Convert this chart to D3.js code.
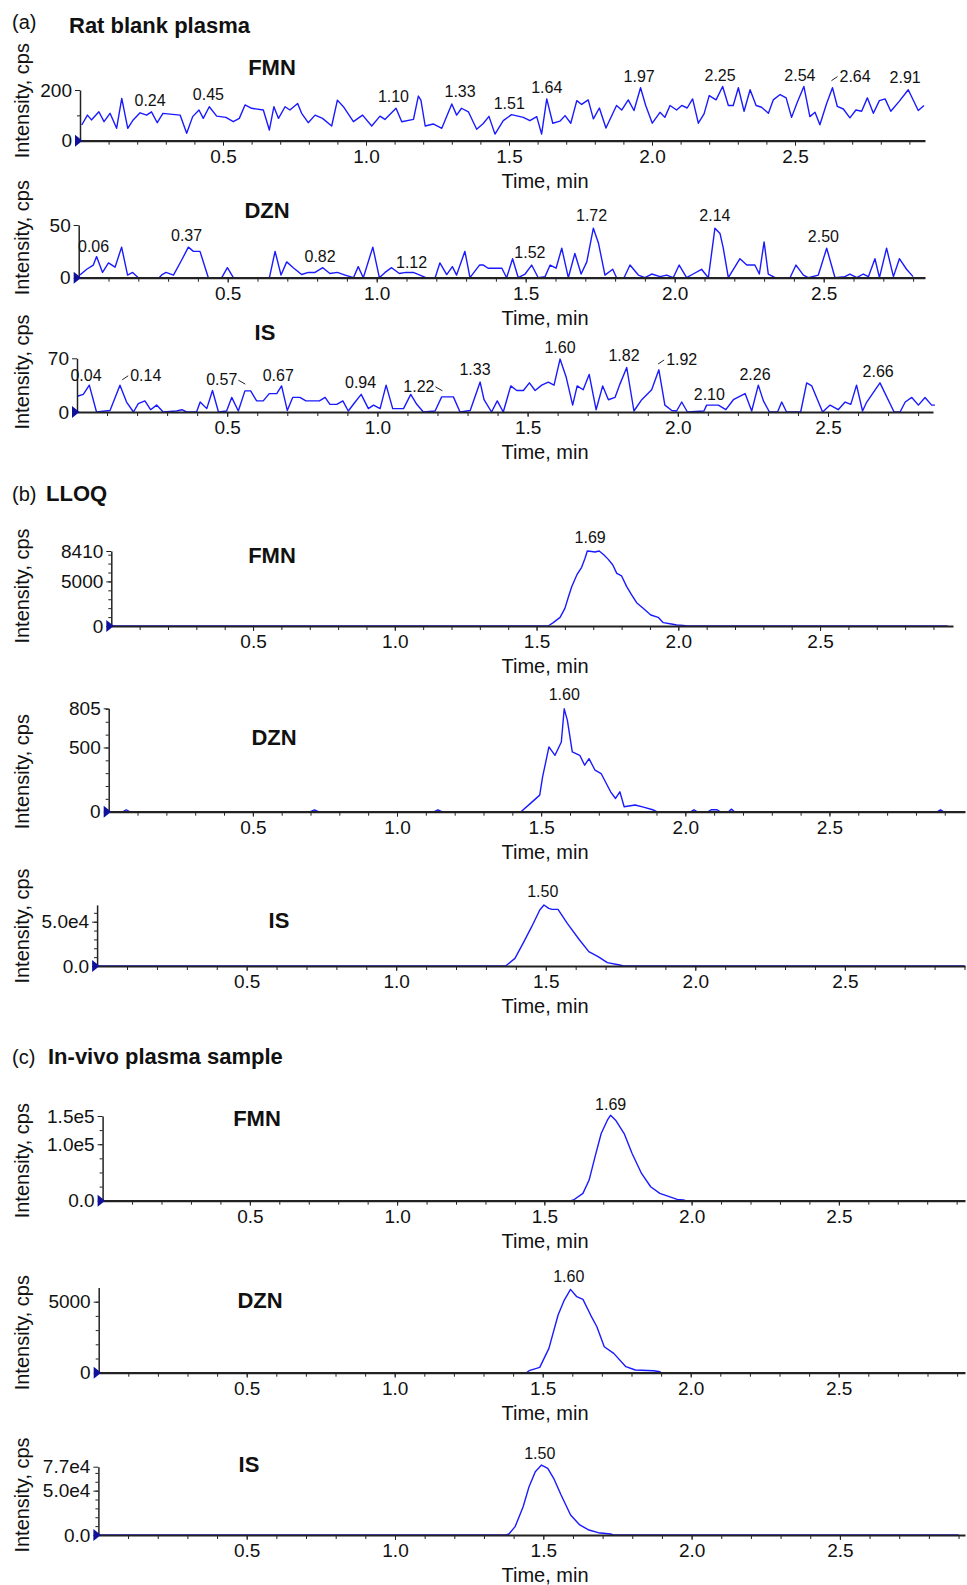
<!DOCTYPE html>
<html>
<head>
<meta charset="utf-8">
<script src="https://cdn.jsdelivr.net/npm/d3@7"></script>
<style>
body { margin: 0; background: #fff; }
svg text { font-family: "Liberation Sans", Arial, sans-serif; fill: #111; }
</style>
</head>
<body>
<svg id="chart" width="967" height="1585"></svg>
<script>
// ---- data: [time (min), intensity (cps)] ----
var blankFMN = [[0.006,62],[0.026,101],[0.04,82],[0.066,114],[0.084,75],[0.105,108],[0.128,49],[0.146,167],[0.167,49],[0.186,82],[0.21,110],[0.233,101],[0.25,114],[0.27,71],[0.29,108],[0.315,105],[0.35,101],[0.373,29],[0.394,95],[0.416,121],[0.431,88],[0.452,134],[0.478,97],[0.51,92],[0.536,75],[0.557,88],[0.577,141],[0.6,128],[0.641,121],[0.662,42],[0.678,134],[0.694,88],[0.717,134],[0.734,121],[0.761,147],[0.775,108],[0.798,71],[0.822,101],[0.848,88],[0.88,58],[0.9,160],[0.921,134],[0.956,75],[0.988,101],[1.02,58],[1.049,97],[1.066,84],[1.105,128],[1.125,75],[1.166,84],[1.183,176],[1.192,160],[1.207,58],[1.235,66],[1.265,49],[1.3,145],[1.317,101],[1.334,128],[1.358,114],[1.387,45],[1.41,68],[1.43,96],[1.451,26],[1.48,79],[1.509,103],[1.55,92],[1.573,79],[1.597,95],[1.614,26],[1.632,165],[1.653,69],[1.678,77],[1.696,99],[1.716,69],[1.737,158],[1.754,143],[1.777,161],[1.795,86],[1.816,129],[1.839,50],[1.876,139],[1.894,121],[1.917,161],[1.937,119],[1.96,209],[1.978,139],[2.001,69],[2.028,112],[2.045,92],[2.063,139],[2.086,121],[2.104,139],[2.123,129],[2.142,165],[2.162,69],[2.182,106],[2.2,178],[2.224,161],[2.247,214],[2.267,139],[2.284,139],[2.302,209],[2.322,116],[2.343,201],[2.364,139],[2.383,132],[2.407,108],[2.424,161],[2.448,182],[2.469,169],[2.488,92],[2.508,152],[2.531,214],[2.552,95],[2.57,112],[2.587,63],[2.61,145],[2.631,209],[2.648,135],[2.669,125],[2.692,90],[2.713,121],[2.733,116],[2.753,169],[2.774,108],[2.795,158],[2.815,165],[2.835,116],[2.865,156],[2.896,201],[2.931,119],[2.951,139]];
var blankDZN = [[0.004,2.5],[0.027,8],[0.049,12],[0.06,20],[0.08,5],[0.1,14],[0.122,10],[0.144,29],[0.164,2.5],[0.181,5],[0.2,0],[0.27,0],[0.28,3],[0.293,5],[0.318,2.5],[0.346,17],[0.368,29],[0.385,25],[0.407,25],[0.435,0],[0.48,0],[0.499,9.5],[0.519,0],[0.64,0],[0.659,25],[0.679,2.5],[0.698,15],[0.72,9.5],[0.748,3],[0.771,5],[0.793,5],[0.819,9.5],[0.843,4],[0.868,5],[0.894,2.5],[0.922,0],[0.938,10.5],[0.955,0],[0.987,29],[1.009,0],[1.028,5],[1.05,9.5],[1.076,4],[1.098,5],[1.123,5],[1.145,2.5],[1.165,0],[1.196,0],[1.212,14],[1.235,3],[1.254,10.5],[1.268,2.5],[1.296,25],[1.313,0],[1.345,12],[1.358,12],[1.374,9],[1.42,9],[1.436,0],[1.456,18],[1.475,0],[1.498,3.5],[1.52,12],[1.542,0],[1.565,1],[1.582,12],[1.602,9],[1.621,28],[1.643,0],[1.665,23],[1.686,3.5],[1.705,15],[1.727,47],[1.744,33],[1.766,2.5],[1.792,8],[1.805,0],[1.83,0],[1.85,12],[1.878,2.5],[1.9,0],[1.923,3.5],[1.951,1],[1.973,2.5],[1.995,0],[2.015,12],[2.04,0],[2.062,3.5],[2.09,8],[2.113,0],[2.135,47],[2.152,42],[2.163,28],[2.18,0],[2.219,18],[2.242,12],[2.269,12],[2.284,3.5],[2.3,34],[2.314,3.5],[2.337,0],[2.387,0],[2.407,12],[2.432,2.5],[2.448,0],[2.482,2.5],[2.51,28],[2.538,0],[2.571,1],[2.588,3.5],[2.611,0],[2.633,3.5],[2.65,1],[2.672,18],[2.687,0],[2.711,28],[2.734,1],[2.754,18],[2.778,8],[2.8,1]];
var blankIS = [[0.001,20.5],[0.021,23],[0.041,35],[0.065,0],[0.11,2],[0.143,35],[0.165,13],[0.188,0],[0.204,11],[0.226,14.5],[0.245,3],[0.265,9],[0.287,0],[0.332,1.3],[0.349,3],[0.365,0],[0.398,0],[0.41,13],[0.432,4.4],[0.451,28],[0.471,0],[0.498,1.3],[0.515,19],[0.537,1.3],[0.559,27.5],[0.578,27.5],[0.598,14.5],[0.62,14.5],[0.64,24],[0.665,24],[0.681,34],[0.7,2],[0.718,19],[0.742,19],[0.762,14.5],[0.787,14.5],[0.807,14.5],[0.826,19],[0.842,10],[0.865,10],[0.885,14.5],[0.903,1.3],[0.926,13],[0.946,23],[0.97,4.4],[0.987,9],[1.009,4.4],[1.029,35],[1.051,4.4],[1.087,4.4],[1.111,23],[1.131,10],[1.153,0],[1.192,1.3],[1.214,19.7],[1.253,19.7],[1.275,0],[1.309,2],[1.342,39],[1.355,16],[1.38,0],[1.399,14.5],[1.419,0],[1.444,34],[1.464,28],[1.486,28],[1.506,38],[1.525,28],[1.547,35],[1.569,39],[1.588,35],[1.608,69],[1.628,46],[1.65,9],[1.665,34],[1.685,29],[1.705,49],[1.728,3],[1.75,34],[1.769,16],[1.791,19],[1.808,37],[1.83,58],[1.854,1.3],[1.88,16],[1.913,29],[1.937,55],[1.957,9],[1.98,2],[1.996,1.3],[2.013,13],[2.032,0],[2.087,1.3],[2.096,9],[2.135,9],[2.16,3],[2.185,16],[2.224,24],[2.246,1.3],[2.268,35],[2.285,14.5],[2.305,0],[2.332,0],[2.346,13],[2.362,0],[2.409,0],[2.429,38],[2.446,34],[2.482,0],[2.507,9],[2.534,3],[2.557,13],[2.576,10],[2.595,35],[2.615,1.3],[2.629,13],[2.673,38],[2.72,0],[2.74,0],[2.757,13],[2.779,19],[2.801,9],[2.823,19],[2.845,9],[2.856,9]];
var lloqFMN = [[0,0],[1.541,0],[1.559,374],[1.583,972],[1.6,1980],[1.612,3215],[1.624,4410],[1.642,5720],[1.659,6580],[1.671,7590],[1.679,8410],[1.694,8350],[1.706,8300],[1.721,8410],[1.738,7960],[1.753,7470],[1.769,6840],[1.783,5900],[1.8,5610],[1.818,4410],[1.836,3475],[1.853,2615],[1.876,1980],[1.903,1235],[1.929,972],[1.947,374],[1.976,224],[1.994,112],[2.018,75],[2.03,0],[2.95,0]];
var lloqDZN = [[0,0],[0.05,0],[0.061,15],[0.072,0],[0.70,0],[0.714,15],[0.727,0],[1.13,0],[1.142,15],[1.155,0],[1.43,0],[1.463,65],[1.495,129],[1.505,271],[1.527,504],[1.548,439],[1.57,543],[1.58,801],[1.591,711],[1.608,465],[1.634,439],[1.651,362],[1.666,413],[1.687,323],[1.708,297],[1.741,155],[1.758,103],[1.773,155],[1.788,39],[1.826,52],[1.858,34],[1.89,13],[1.901,0],[2.02,0],[2.03,15],[2.04,0],[2.08,0],[2.09,15],[2.11,15],[2.12,0],[2.15,0],[2.16,20],[2.17,0],[2.875,0],[2.885,15],[2.895,0],[2.95,0]];
var lloqIS = [[0,0],[1.366,0],[1.397,8650],[1.424,25570],[1.453,44370],[1.48,63170],[1.494,68800],[1.51,65050],[1.521,63920],[1.541,63920],[1.572,48130],[1.613,29330],[1.644,16170],[1.675,10530],[1.706,3760],[1.747,1130],[1.76,0],[2.9,0]];
var vivoFMN = [[0,0],[1.59,0],[1.599,1180],[1.631,12960],[1.652,36520],[1.672,77750],[1.693,118980],[1.714,142540],[1.725,151370],[1.742,142540],[1.771,118980],[1.798,83640],[1.83,48300],[1.861,24740],[1.892,12960],[1.924,7070],[1.951,2360],[1.972,1180],[1.98,0],[2.9,0]];
var vivoDZN = [[0,0],[1.445,0],[1.454,141],[1.49,375],[1.521,1713],[1.552,4060],[1.573,5117],[1.594,5868],[1.615,5350],[1.636,5163],[1.662,4060],[1.683,3239],[1.708,1831],[1.74,1361],[1.781,422],[1.813,188],[1.875,141],[1.896,70],[1.9,0],[2.9,0]];
var vivoIS = [[0,0],[1.375,0],[1.384,1130],[1.405,9400],[1.432,31900],[1.452,54500],[1.473,71400],[1.494,78900],[1.515,75200],[1.535,63900],[1.56,45100],[1.592,22500],[1.623,11300],[1.654,5600],[1.685,2600],[1.727,1130],[1.735,0],[2.9,0]];

// peak labels: [time, intensity, text, leader side]
var blankFMNPeaks = [[0.245,137,"0.24"],[0.449,160,"0.45"],[1.096,154,"1.10"],[1.329,171,"1.33"],[1.501,125,"1.51"],[1.632,187,"1.64"],[1.955,233,"1.97"],[2.238,237,"2.25"],[2.517,237,"2.54"],[2.71,233,"2.64","L"],[2.885,226,"2.91"]];
var blankDZNPeaks = [[0.05,24.7,"0.06"],[0.362,34.8,"0.37"],[0.81,14.6,"0.82"],[1.117,9.5,"1.12"],[1.514,18.4,"1.52"],[1.721,53.8,"1.72"],[2.135,53.8,"2.14"],[2.499,34.2,"2.50"]];
var blankISPeaks = [[0.03,40.7,"0.04"],[0.229,40.7,"0.14","L"],[0.482,35,"0.57","R"],[0.67,40.7,"0.67"],[0.944,30.7,"0.94"],[1.138,26.3,"1.22","R"],[1.325,48,"1.33"],[1.608,76.7,"1.60"],[1.821,67,"1.82"],[2.013,61.3,"1.92","L"],[2.105,15.4,"2.10"],[2.257,41.6,"2.26"],[2.667,46,"2.66"]];
var lloqFMNPeaks = [[1.689,9270,"1.69"]];
var lloqDZNPeaks = [[1.58,866,"1.60"]];
var lloqISPeaks = [[1.49,78000,"1.50"]];
var vivoFMNPeaks = [[1.725,161000,"1.69"]];
var vivoDZNPeaks = [[1.588,6400,"1.60"]];
var vivoISPeaks = [[1.488,86000,"1.50"]];

// tick labels
var xTickVals = [0.5, 1.0, 1.5, 2.0, 2.5];
var xTickText = ["0.5", "1.0", "1.5", "2.0", "2.5"];
var blankFMNTicks = [[0,"0"],[200,"200"]];
var blankDZNTicks = [[0,"0"],[50,"50"]];
var blankISTicks = [[0,"0"],[70,"70"]];
var lloqFMNTicks = [[0,"0"],[5000,"5000"],[8410,"8410"]];
var lloqDZNTicks = [[0,"0"],[500,"500"],[805,"805"]];
var lloqISTicks = [[0,"0.0"],[50000,"5.0e4"]];
var vivoFMNTicks = [[0,"0.0"],[100000,"1.0e5"],[150000,"1.5e5"]];
var vivoDZNTicks = [[0,"0"],[5000,"5000"]];
var vivoISTicks = [[0,"0.0"],[50000,"5.0e4"],[77000,"7.7e4"]];

var sections = [["(a)", "Rat blank plasma"], ["(b)", "LLOQ"], ["(c)", "In-vivo plasma sample"]];

// ---- layout ----
var panels = [
  {data: blankFMN, peaks: blankFMNPeaks, ticks: blankFMNTicks, name: "FMN", x0: 80, k: 286, xEnd: 925, base: 140.7, refV: 200, refY: 90, topV: 200, minor: 100, nx: 272, ny: 75},
  {data: blankDZN, peaks: blankDZNPeaks, ticks: blankDZNTicks, name: "DZN", x0: 78.7, k: 298, xEnd: 925, base: 277.7, refV: 50, refY: 225, topV: 50, minor: 0, nx: 267, ny: 218},
  {data: blankIS, peaks: blankISPeaks, ticks: blankISTicks, name: "IS", x0: 77, k: 300.4, xEnd: 933, base: 412, refV: 70, refY: 358.3, topV: 70, minor: 0, nx: 265, ny: 340},
  {data: lloqFMN, peaks: lloqFMNPeaks, ticks: lloqFMNTicks, name: "FMN", x0: 111.3, k: 283.5, xEnd: 953, base: 626, refV: 8410, refY: 551, topV: 8410, minor: 1000, nx: 272, ny: 563},
  {data: lloqDZN, peaks: lloqDZNPeaks, ticks: lloqDZNTicks, name: "DZN", x0: 108.7, k: 288.3, xEnd: 965, base: 811.7, refV: 805, refY: 708.3, topV: 805, minor: 100, nx: 274, ny: 745},
  {data: lloqIS, peaks: lloqISPeaks, ticks: lloqISTicks, name: "IS", x0: 97.1, k: 299.1, xEnd: 965, base: 966, refV: 50000, refY: 921.7, topV: 69000, minor: 10000, nx: 279, ny: 928},
  {data: vivoFMN, peaks: vivoFMNPeaks, ticks: vivoFMNTicks, name: "FMN", x0: 102.6, k: 294.5, xEnd: 965, base: 1200.7, refV: 150000, refY: 1116, topV: 150000, minor: 25000, nx: 257, ny: 1126},
  {data: vivoDZN, peaks: vivoDZNPeaks, ticks: vivoDZNTicks, name: "DZN", x0: 98.7, k: 296, xEnd: 965, base: 1372.7, refV: 5000, refY: 1301.7, topV: 6000, minor: 1000, nx: 260, ny: 1308},
  {data: vivoIS, peaks: vivoISPeaks, ticks: vivoISTicks, name: "IS", x0: 98.4, k: 296.6, xEnd: 965, base: 1535, refV: 77000, refY: 1466.7, topV: 77000, minor: 10000, nx: 249, ny: 1472}
];
var sectionY = [[29, 33], [501, 501], [1064, 1064]];

var svg = d3.select("#chart");
var blue = "#1a1aff";

panels.forEach(function(p) {
  var tmax = (p.xEnd - p.x0) / p.k;
  var x = d3.scaleLinear().domain([0, tmax]).range([p.x0, p.xEnd]);
  var kpx = (p.base - p.refY) / p.refV;
  var y = d3.scaleLinear().domain([0, p.topV]).range([p.base, p.base - p.topV * kpx]);
  var g = svg.append("g");

  // trace
  g.append("path").datum(p.data)
    .attr("d", d3.line().x(function(d){ return x(d[0]); }).y(function(d){ return y(d[1]); }))
    .attr("fill", "none").attr("stroke", blue).attr("stroke-width", 1.4)
    .attr("stroke-linejoin", "round");

  // x axis: minor ticks every 0.1 min, labels every 0.5
  var minorT = d3.range(1, Math.floor(tmax * 10 + 1e-6) + 1).map(function(i){ return i / 10; });
  var xa = g.append("g").attr("transform", "translate(0," + p.base + ")")
    .call(d3.axisBottom(x).tickValues(minorT).tickSize(4).tickSizeOuter(0).tickFormat(""));
  xa.select(".domain").attr("stroke", "#222").attr("stroke-width", 2.2);
  xa.selectAll(".tick line").attr("stroke", "#222");
  var xl = g.append("g").attr("transform", "translate(0," + p.base + ")")
    .call(d3.axisBottom(x).tickValues(xTickVals).tickSize(5).tickPadding(4)
      .tickFormat(function(d, i){ return xTickText[i]; }));
  xl.select(".domain").remove();
  xl.selectAll(".tick line").attr("stroke", "#222");
  xl.selectAll("text").attr("font-size", 19).attr("font-family", null);

  // y axis
  if (p.minor) {
    var ym = g.append("g").attr("transform", "translate(" + p.x0 + ",0)")
      .call(d3.axisLeft(y).tickValues(d3.range(p.minor, p.topV, p.minor)).tickSize(3).tickSizeOuter(0).tickFormat(""));
    ym.select(".domain").remove();
    ym.selectAll(".tick line").attr("stroke", "#222");
  }
  var ya = g.append("g").attr("transform", "translate(" + p.x0 + ",0)")
    .call(d3.axisLeft(y).tickValues(p.ticks.map(function(d){ return d[0]; }))
      .tickSize(5).tickSizeOuter(0).tickPadding(3)
      .tickFormat(function(d, i){ return p.ticks[i][1]; }));
  ya.select(".domain").attr("stroke", "#222").attr("stroke-width", 1.5);
  ya.selectAll(".tick line").attr("stroke", "#222");
  ya.selectAll("text").attr("font-size", 19).attr("font-family", null);

  // start marker
  g.append("path")
    .attr("d", "M" + (x(0) - 5) + "," + (y(0) - 6) + "L" + (x(0) + 2.5) + "," + y(0) + "L" + (x(0) - 5) + "," + (y(0) + 6) + "Z")
    .attr("fill", "#10109a");

  // peak labels
  p.peaks.forEach(function(pk) {
    var t = g.append("text").attr("x", x(pk[0])).attr("y", y(pk[1]))
      .attr("text-anchor", "middle").attr("font-size", 16).text(pk[2]);
    if (pk[3]) {
      var w = t.node().getComputedTextLength();
      var cx = x(pk[0]), cy = y(pk[1]);
      var seg = pk[3] === "L"
        ? [[cx - w / 2 - 8, cy - 1], [cx - w / 2 - 2, cy - 5]]
        : [[cx + w / 2 + 1, cy - 5], [cx + w / 2 + 8, cy - 1]];
      g.append("path").attr("d", d3.line()(seg)).attr("stroke", "#222").attr("stroke-width", 1).attr("fill", "none");
    }
  });

  // compound name
  g.append("text").attr("x", p.nx).attr("y", p.ny).attr("text-anchor", "middle")
    .attr("font-size", 22).attr("font-weight", "bold").text(p.name);

  // axis titles
  g.append("text").attr("transform", "translate(29," + (p.base - 40) + ") rotate(-90)")
    .attr("text-anchor", "middle").attr("font-size", 20).text("Intensity, cps");
  g.append("text").attr("x", 545).attr("y", p.base + 47).attr("text-anchor", "middle")
    .attr("font-size", 20).text("Time, min");
});

// section headings
sections.forEach(function(s, i) {
  svg.append("text").attr("x", 12).attr("y", sectionY[i][0]).attr("font-size", 20).text(s[0]);
  svg.append("text").attr("x", i === 0 ? 69 : (i === 1 ? 46 : 48)).attr("y", sectionY[i][1])
    .attr("font-size", 22).attr("font-weight", "bold").text(s[1]);
});
</script>
</body>
</html>
